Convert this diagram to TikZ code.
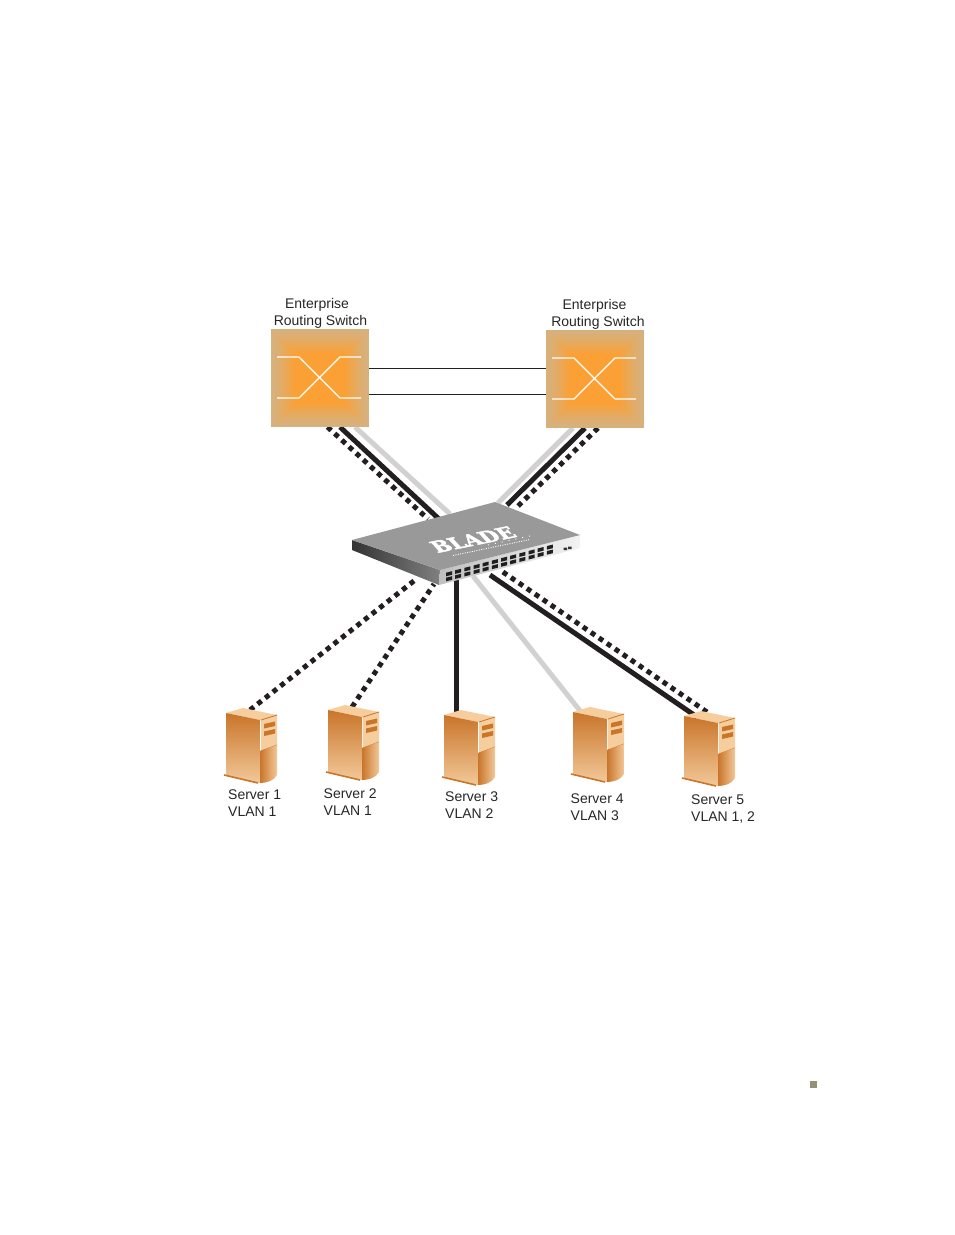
\documentclass[tikz,border=0pt]{standalone}
\usepackage{fontspec}
\setmainfont{Liberation Sans}
\newfontfamily\bladefont[BoldFeatures={FakeBold=2.5}]{DejaVu Serif}
\usetikzlibrary{backgrounds}
\definecolor{inkblack}{HTML}{231F20}
\definecolor{routertan}{HTML}{D6B17E}
\definecolor{routerorange}{HTML}{FBA034}
\definecolor{serverdark}{HTML}{C9752A}
\definecolor{serverlight}{HTML}{F2C898}
\definecolor{serverpeach}{HTML}{F6CD9C}
\tikzset{
    routerbox/.style={minimum size=98pt,inner sep=0pt,outer sep=0pt},
    caption/.style={inner sep=0pt,align=left,anchor=north west,text=black!85,font=\fontsize{14}{17}\selectfont},
    vlansolid/.style={line width=5pt,color=inkblack},
    vlangrey/.style={line width=5pt,color=black!18},
    vlandots/.style={line width=5pt,color=inkblack,dash pattern=on 5pt off 4.7pt},
    trunkline/.style={line width=1pt,color=inkblack},
    crosswire/.style={white,line width=1.2pt},
    serverbox/.pic={
        %% top and front
        \fill[serverpeach] (0,0) -- (17,-5) -- (51,2) -- (34,7) -- cycle;
        \shade[top color=serverdark,bottom color=serverlight] (0,0) -- (34,7) -- (34,70) -- (0,62) -- cycle;
        \draw[serverdark,line width=1.6pt] (-2,62) -- (32,70);
        %% side panel
        \fill[serverpeach] (35,7) -- (51,2) -- (51,32) -- (35,38) -- cycle;
        \draw[serverdark,line width=.8pt] (35,38) -- (51,32);
        \draw[serverdark,line width=.8pt] (35,7) -- (51,2);
        \shade[left color=serverdark,right color=serverlight] (34,38) -- (51,32) -- (51,62) .. controls (48,68) and (40,70) .. (34,70) -- cycle;
        %% drive slots
        \foreach \s in {0,7.5}
            \fill[serverdark] (38,11+\s) -- (49,8.5+\s) -- (49,13+\s) -- (38,15.5+\s) -- cycle;
    },
}
\newcommand{\routerface}[1]{
    \foreach \i in {0,...,24}{
        \pgfmathsetmacro{\mixval}{100*(\i/24)^1.3}
        \fill[routerorange!\mixval!routertan] ([xshift=\i pt,yshift=-\i pt]#1.north west) rectangle ([xshift=-\i pt,yshift=\i pt]#1.south east);
    }
    \draw[crosswire] ([xshift=-43pt,yshift=21pt]#1.center) -- ([xshift=-21pt,yshift=21pt]#1.center) -- ([xshift=20pt,yshift=-20pt]#1.center) -- ([xshift=41pt,yshift=-20pt]#1.center);
    \draw[crosswire] ([xshift=-43pt,yshift=-20pt]#1.center) -- ([xshift=-21pt,yshift=-20pt]#1.center) -- ([xshift=20pt,yshift=21pt]#1.center) -- ([xshift=41pt,yshift=21pt]#1.center);
}
\begin{document}
\begin{tikzpicture}[x=1pt,y=-1pt]
    \useasboundingbox (0,0) rectangle (954,1235);
    %% Routers
    \node[routerbox] (routerA) at (320,378) {};
    \node[routerbox] (routerB) at (595,379) {};
    \routerface{routerA}
    \routerface{routerB}
    \node[caption,align=center,anchor=north] (routerAtext) at (320.5,298) {Enterprise\hspace*{7pt}\\Routing Switch};
    \node[caption,align=center,anchor=north] (routerBtext) at (598,299) {Enterprise\hspace*{7pt}\\Routing Switch};
    %% Trunks between routers
    \draw[trunkline] (routerA.east |- 0,368.5) -- (routerB.west |- 0,368.5);
    \draw[trunkline] (routerA.east |- 0,394.5) -- (routerB.west |- 0,394.5);
    %% Blade switch
    \coordinate (bladeL) at (352,540);
    \coordinate (bladeT) at (495,502);
    \coordinate (bladeR) at (580,535);
    \coordinate (bladeF) at (440,570);
    \shade[left color=black!80,right color=black!50] (bladeL) -- (bladeF) -- (439,585) -- (352,550) -- cycle;
    \shade[left color=black!25,right color=black!5] (bladeF) -- (bladeR) -- (580,548) -- (439,585) -- cycle;
    \fill[black!40] (bladeL) -- (bladeT) -- (bladeR) -- (bladeF) -- cycle;
    \foreach \c in {0,...,11}
        \foreach \r in {0,1}
            \fill[black!88] (446+\c*9.17,572.7-\c*2.42+\r*5) -- ++(6,-1.5) -- ++(0,3.6) -- ++(-6,1.5) -- cycle;
    \fill[black!80] (563.5,547.5) rectangle ++(3.5,2.5) (568,546.5) rectangle ++(3.5,2.5);
    \node[rotate=11.5,xslant=-.6,xscale=1.3,yscale=1.05,white,font=\fontsize{16}{16}\bfseries\selectfont\bladefont,inner sep=0pt] (bladeText) at (473,539.5) {BLADE};
    \draw[white,line width=.9pt,dash pattern=on 1pt off 1.4pt] (453,555.5) -- (530,539.5);
    \draw[white,line width=.9pt,dash pattern=on 1pt off 6pt] (488,545) -- (530,536);
    %% Servers
    \pic (serverA) at (226,713) {serverbox};
    \pic (serverB) at (328,710) {serverbox};
    \pic (serverC) at (444,715) {serverbox};
    \pic (serverD) at (573,712) {serverbox};
    \pic (serverE) at (684,716) {serverbox};
    \node[caption] (serverAtext) at (228,790) {Server 1\\VLAN 1};
    \node[caption] (serverBtext) at (323.5,789) {Server 2\\VLAN 1};
    \node[caption] (serverCtext) at (445,792) {Server 3\\VLAN 2};
    \node[caption] (serverDtext) at (570.5,794) {Server 4\\VLAN 3};
    \node[caption] (serverEtext) at (691,795) {Server 5\\VLAN 1, 2};
    %% Links
    \begin{scope}[on background layer]
        \draw[vlandots] (327.5,427) -- (428,519);
        \draw[vlansolid] (340,427) -- (439,519);
        \draw[vlangrey] (355,427) -- (450,514);
        \draw[vlangrey] (573,428) -- (498,503);
        \draw[vlansolid] (585,428) -- (507,505);
        \draw[vlandots] (598,428) -- (516,508);
        \draw[vlandots] (250,710) -- (417,578.5);
        \draw[vlandots] (352,707) -- (434,584);
        \draw[vlansolid] (456.5,712) -- (456.5,580);
        \draw[vlangrey] (581,712) -- (473,576);
        \draw[vlansolid] (697,717) -- (490,575);
        \draw[vlandots] (707,712) -- (500,570);
    \end{scope}
    %% Page mark
    \fill[black!45!yellow!35!gray] (810,1081) rectangle (817,1088);
\end{tikzpicture}
\end{document}
